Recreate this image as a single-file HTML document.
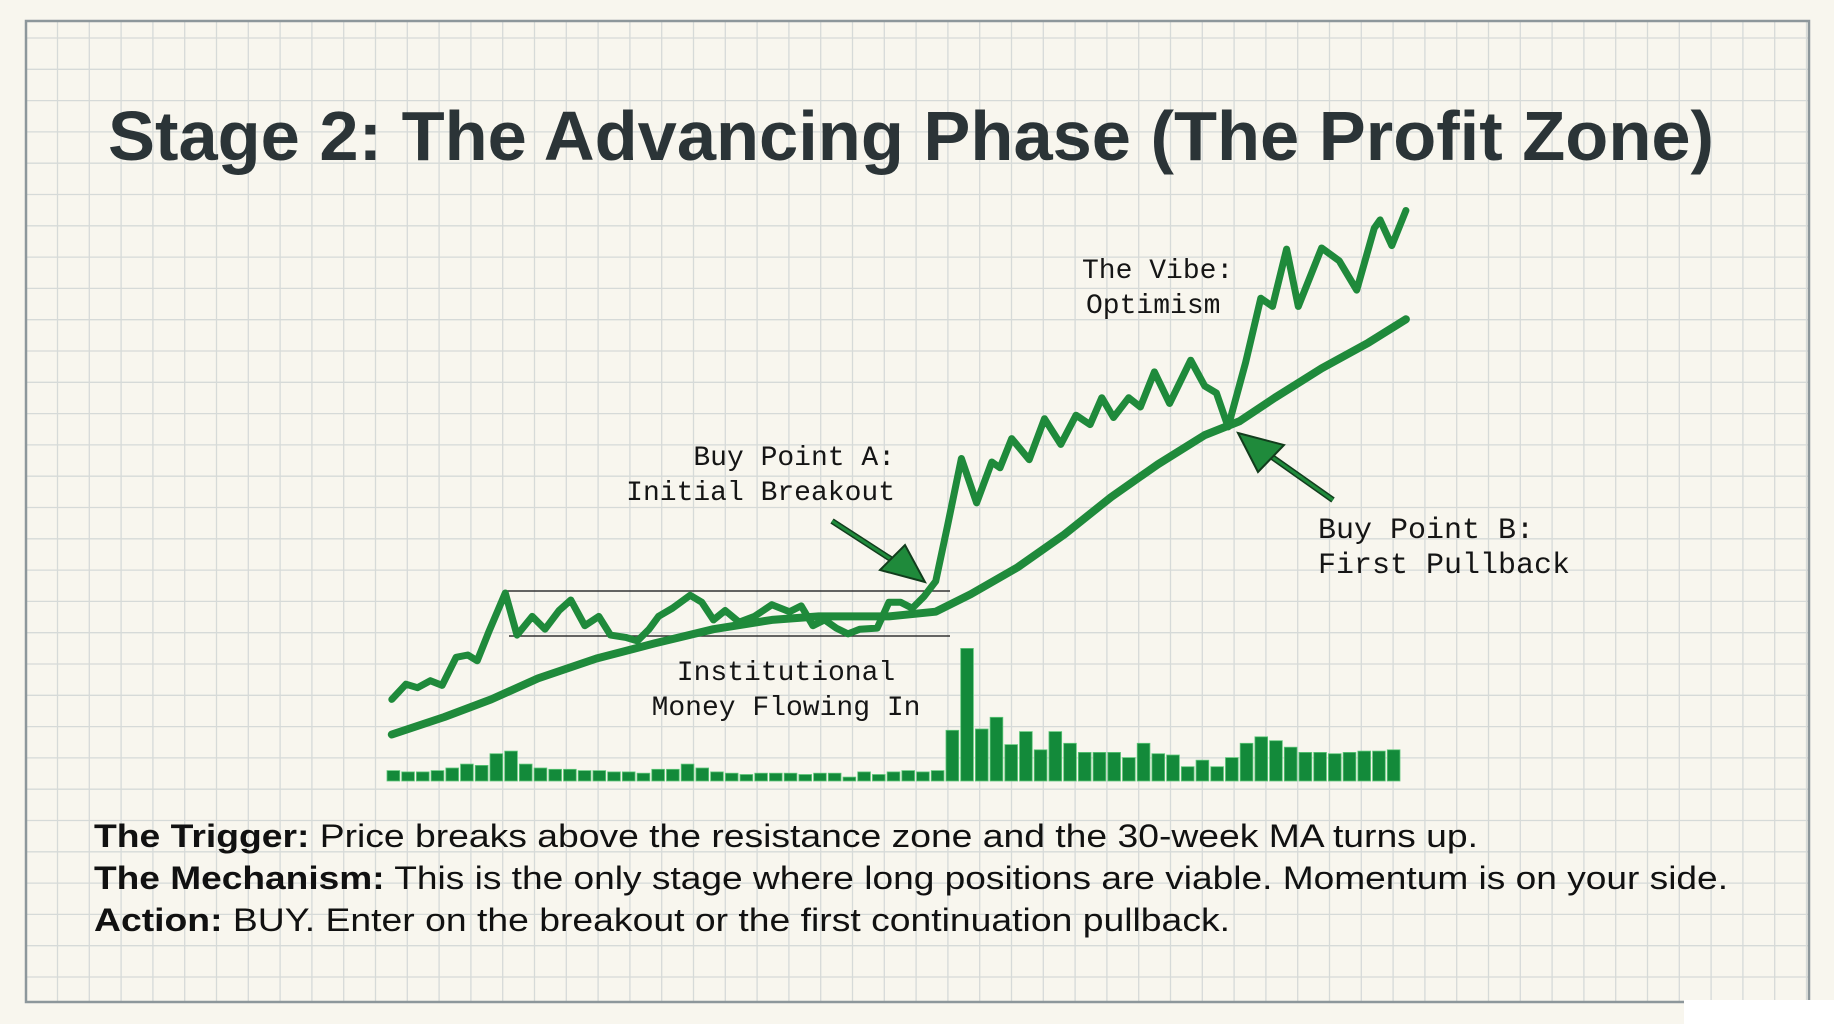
<!DOCTYPE html>
<html><head><meta charset="utf-8"><style>
html,body{margin:0;padding:0;background:#f8f6ee;}
svg{display:block;}
.mono{font-family:"Liberation Mono","DejaVu Sans Mono",monospace;fill:#151515;}
.sans{font-family:"Liberation Sans","DejaVu Sans",sans-serif;fill:#111;}
</style></head><body>
<svg id="chart" width="1834" height="1024" viewBox="0 0 1834 1024" xmlns="http://www.w3.org/2000/svg">
<rect x="0" y="0" width="1834" height="1024" fill="#f8f6ee"/>
<g id="grid"></g>
<rect x="26" y="21" width="1783" height="981" fill="none" stroke="#8d979b" stroke-width="2.5"/>
<rect x="1684" y="1000" width="150" height="24" fill="#ffffff"/>
<text class="sans" x="108" y="160" font-size="70" font-weight="bold" style="fill:#2b3437" textLength="1606" lengthAdjust="spacingAndGlyphs">Stage 2: The Advancing Phase (The Profit Zone)</text>
<g id="volume"></g>
<line x1="505" y1="591" x2="950" y2="591" stroke="#333" stroke-width="1.6"/>
<line x1="509" y1="636" x2="950" y2="636" stroke="#333" stroke-width="1.6"/>
<path id="ma" fill="none" stroke="#1f8a3b" stroke-width="8" stroke-linecap="round" stroke-linejoin="round"/>
<path id="price" fill="none" stroke="#1f8a3b" stroke-width="7" stroke-linecap="round" stroke-linejoin="round"/>
<g>
<line x1="832" y1="521" x2="900" y2="565" stroke="#123d1d" stroke-width="6"/>
<line x1="832" y1="521" x2="900" y2="565" stroke="#1f8a3b" stroke-width="3"/>
<polygon points="925,582 880,570 905,545" fill="#1f8a3b" stroke="#123d1d" stroke-width="2"/>
</g>
<g>
<line x1="1333" y1="500" x2="1265" y2="452" stroke="#123d1d" stroke-width="6"/>
<line x1="1333" y1="500" x2="1265" y2="452" stroke="#1f8a3b" stroke-width="3"/>
<polygon points="1238,433 1284,445 1258,472" fill="#1f8a3b" stroke="#123d1d" stroke-width="2"/>
</g>
<text class="mono" font-size="28" text-anchor="end"><tspan x="895" y="465">Buy Point A:</tspan><tspan x="895" y="500">Initial Breakout</tspan></text>
<text class="mono" font-size="28"><tspan x="1082" y="278">The Vibe:</tspan><tspan x="1086" y="313">Optimism</tspan></text>
<text class="mono" font-size="30"><tspan x="1318" y="538">Buy Point B:</tspan><tspan x="1318" y="573">First Pullback</tspan></text>
<text class="mono" font-size="28" text-anchor="middle"><tspan x="786" y="680">Institutional</tspan><tspan x="786" y="715">Money Flowing In</tspan></text>
<text class="sans" x="94" y="847" font-size="32" textLength="1384" lengthAdjust="spacingAndGlyphs"><tspan font-weight="bold">The Trigger:</tspan> Price breaks above the resistance zone and the 30-week MA turns up.</text>
<text class="sans" x="94" y="889" font-size="32" textLength="1634" lengthAdjust="spacingAndGlyphs"><tspan font-weight="bold">The Mechanism:</tspan> This is the only stage where long positions are viable. Momentum is on your side.</text>
<text class="sans" x="94" y="931" font-size="32" textLength="1136" lengthAdjust="spacingAndGlyphs"><tspan font-weight="bold">Action:</tspan> BUY. Enter on the breakout or the first continuation pullback.</text>
</svg>
<script>
const priceWeeks=[0,12,22,33,43,55,65,73,83,97,107,120,131,143,153,165,177,187,200,210,220,228,240,255,265,275,285,297,310,325,340,350,360,370,380,390,400,415,425,435,445,455,465,475,487,500,513,520,530,545,558,572,585,597,607,617,630,640,652,665,683,695,705,715,730,743,753,765,775,795,810,825,840,845,855,867];
const priceValues=[82,95,92,98,94,118,120,115,140,173,137,153,142,158,167,145,153,137,135,132,142,153,160,171,165,150,158,148,153,163,157,162,145,150,143,138,142,143,165,165,160,170,183,230,288,250,285,280,305,287,322,300,325,317,340,323,340,332,362,335,372,350,344,315,370,425,418,467,418,468,457,432,485,492,470,500];
const maWeeks=[0,45,85,125,175,225,275,325,365,425,465,495,535,575,615,655,695,725,755,795,835,867];
const maValues=[52,67,82,100,117,130,142,150,153,153,157,172,195,223,255,283,308,320,340,365,387,407];
const volValues=[8,7,7,8,10,13,12,21,23,13,10,9,9,8,8,7,7,6,9,9,13,10,7,6,5,6,6,6,5,6,6,3,7,5,7,8,7,8,39,102,40,49,28,38,24,38,29,22,22,22,18,29,21,20,11,16,11,18,29,34,31,26,22,22,21,22,23,23,24];
const NS='http://www.w3.org/2000/svg';
const S=1.1696;
function xScale(w){return (335+w)*S;}
function yScale(p){return (680-p)*S;}
const volBase=781, volX0=386, volX1=1401;
function volX(i){return volX0+i*(volX1-volX0)/volValues.length;}
function volH(v){return v*1.3;}
const grid=document.getElementById('grid');
for(let x=26+31.5;x<1809;x+=31.8){
  const l=document.createElementNS(NS,'line');
  
  
  l.setAttribute('x1',x);l.setAttribute('x2',x);l.setAttribute('y1',21);l.setAttribute('y2',1002);
  l.setAttribute('stroke','#d6dad8');l.setAttribute('stroke-width','1.3');
  grid.appendChild(l);
}
for(let y=21+17;y<1002;y+=31.3){
  const l=document.createElementNS(NS,'line');
  
  
  l.setAttribute('x1',26);l.setAttribute('x2',1809);l.setAttribute('y1',y);l.setAttribute('y2',y);
  l.setAttribute('stroke','#d6dad8');l.setAttribute('stroke-width','1.3');
  grid.appendChild(l);
}
const vg=document.getElementById('volume');
const bw=(volX1-volX0)/volValues.length;
volValues.forEach((v,i)=>{
  const r=document.createElementNS(NS,'rect');
  
  
  const h=volH(v);
  r.setAttribute('x',volX(i)+1);r.setAttribute('y',volBase-h);
  r.setAttribute('width',bw-2);r.setAttribute('height',h);
  r.setAttribute('fill','#138a3a');r.setAttribute('stroke','#5fc77a');r.setAttribute('stroke-width','0.8');
  vg.appendChild(r);
});
function pathFrom(ws,vs){return ws.map((w,i)=>(i?'L':'M')+xScale(w).toFixed(1)+' '+yScale(vs[i]).toFixed(1)).join(' ');}
document.getElementById('price').setAttribute('d',pathFrom(priceWeeks,priceValues));
document.getElementById('ma').setAttribute('d',pathFrom(maWeeks,maValues));
</script>
</body></html>
